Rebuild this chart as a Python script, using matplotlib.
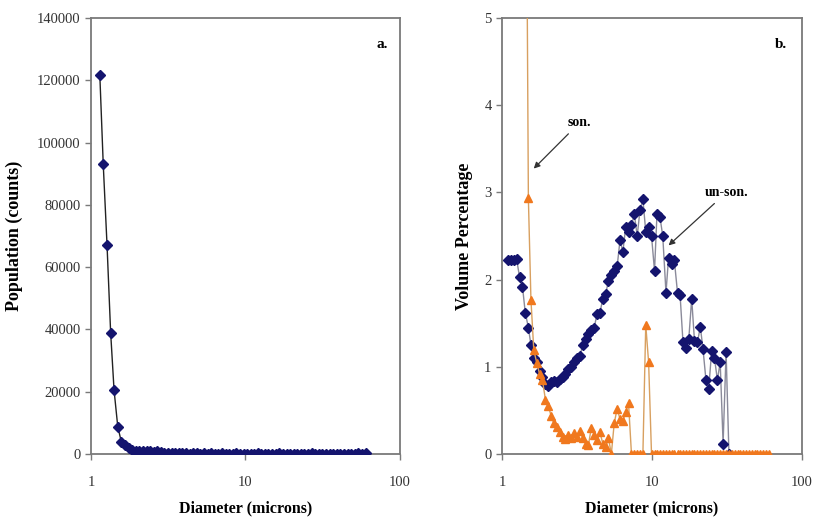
import matplotlib
matplotlib.use("Agg")
import matplotlib.pyplot as plt
import numpy as np

# ---------------- data: panel a ----------------
diam_a = [1.14, 1.20, 1.27, 1.34, 1.41, 1.49, 1.57, 1.66, 1.75, 1.85,
          1.95, 2.05, 2.17, 2.29, 2.41, 2.55, 2.69, 2.83, 2.99, 3.15,
          3.33, 3.51, 3.70, 3.91, 4.12, 4.35, 4.59, 4.84, 5.11, 5.39,
          5.69, 6.00, 6.33, 6.68, 7.05, 7.44, 7.85, 8.28, 8.73, 9.21,
          9.72, 10.3, 10.8, 11.4, 12.0, 12.7, 13.4, 14.1, 14.9, 15.7,
          16.6, 17.5, 18.5, 19.5, 20.5, 21.7, 22.9, 24.1, 25.5, 26.9,
          28.3, 29.9, 31.5, 33.3, 35.1, 37.0, 39.1, 41.2, 43.5, 45.9,
          48.4, 51.1, 53.9, 56.9, 60.0]
population = [121800, 93000, 67000, 39000, 20500, 8800, 4000, 3000, 2000, 1400,
              1000, 800, 900, 1000, 800, 700, 1000, 600, 300, 250,
              200, 250, 200, 180, 200, 150, 200, 180, 150, 200,
              150, 180, 120, 150, 200, 150, 120, 150, 180, 150,
              120, 150, 150, 120, 180, 150, 120, 150, 120, 150,
              180, 150, 120, 150, 120, 150, 150, 120, 150, 180,
              150, 120, 150, 150, 120, 150, 150, 120, 150, 150,
              120, 150, 180, 150, 200]

# ---------------- data: panel b ----------------
diam_b = [1.10, 1.15, 1.20, 1.25, 1.31, 1.37, 1.43, 1.50, 1.56, 1.63,
          1.71, 1.78, 1.86, 1.95, 2.04, 2.13, 2.22, 2.32, 2.43, 2.54,
          2.65, 2.77, 2.90, 3.03, 3.16, 3.31, 3.45, 3.61, 3.77, 3.94,
          4.12, 4.30, 4.50, 4.70, 4.91, 5.13, 5.36, 5.60, 5.86, 6.12,
          6.40, 6.68, 6.98, 7.30, 7.63, 7.97, 8.33, 8.70, 9.09, 9.50,
          9.93, 10.4, 10.8, 11.3, 11.8, 12.4, 12.9, 13.5, 14.1, 14.8,
          15.4, 16.1, 16.8, 17.6, 18.4, 19.2, 20.1, 21.0, 21.9, 22.9,
          23.9, 25.0, 26.1, 27.3, 28.5, 29.8, 31.2, 32.6, 34.0, 35.6,
          37.2, 38.8, 40.6, 42.4, 44.3, 46.3, 48.4, 50.5, 52.8, 55.2,
          57.7, 60.3]
unson = [2.22, 2.22, 2.22, 2.24, 2.03, 1.92, 1.62, 1.45, 1.25, 1.10,
         1.05, 0.95, 0.88, 0.80, 0.78, 0.82, 0.84, 0.82, 0.86, 0.88,
         0.92, 0.97, 1.00, 1.06, 1.10, 1.12, 1.25, 1.32, 1.38, 1.42,
         1.45, 1.60, 1.62, 1.78, 1.84, 1.98, 2.05, 2.10, 2.15, 2.45,
         2.32, 2.60, 2.55, 2.62, 2.75, 2.50, 2.80, 2.92, 2.55, 2.60,
         2.50, 2.10, 2.75, 2.72, 2.50, 1.85, 2.25, 2.18, 2.22, 1.85,
         1.82, 1.28, 1.22, 1.32, 1.78, 1.30, 1.28, 1.46, 1.20, 0.85,
         0.75, 1.18, 1.10, 0.85, 1.05, 0.12, 1.17, 0.0, np.nan, np.nan,
         np.nan, np.nan, np.nan, np.nan, np.nan, np.nan, np.nan, np.nan, np.nan, np.nan,
         np.nan, np.nan]
son = [np.nan, np.nan, np.nan, np.nan, np.nan, np.nan, 9.0, 2.93, 1.77, 1.19,
       1.04, 0.92, 0.85, 0.62, 0.55, 0.43, 0.35, 0.31, 0.25, 0.20,
       0.17, 0.22, 0.18, 0.24, 0.20, 0.26, 0.18, 0.12, 0.10, 0.30,
       0.22, 0.16, 0.25, 0.12, 0.08, 0.18, 0.0, 0.35, 0.52, 0.40,
       0.38, 0.48, 0.58, 0.0, 0.0, 0.0, 0.0, 0.0, 1.48, 1.05,
       0.0, 0.0, 0.0, 0.0, 0.0, 0.0, 0.0, 0.0, 0.0, 0.0,
       0.0, 0.0, 0.0, 0.0, 0.0, 0.0, 0.0, 0.0, 0.0, 0.0,
       0.0, 0.0, 0.0, 0.0, 0.0, 0.0, 0.0, 0.0, 0.0, 0.0,
       0.0, 0.0, 0.0, 0.0, 0.0, 0.0, 0.0, 0.0, 0.0, 0.0,
       0.0, 0.0]

yticks_a = [0, 20000, 40000, 60000, 80000, 100000, 120000, 140000]
yticks_b = [0, 1, 2, 3, 4, 5]
xticks = [1, 10, 100]

# ---------------- style ----------------
plt.rcParams['font.family'] = ['Liberation Serif', 'DejaVu Serif']
navy = '#14146e'
orange = '#f0781e'
frame = '#7a7a7a'

fig = plt.figure(figsize=(8.17, 5.26), dpi=100)
axa = fig.add_axes([0.1114, 0.1369, 0.378, 0.829])
axb = fig.add_axes([0.6144, 0.1369, 0.3672, 0.829])


def style(ax):
    ax.set_xscale('log')
    ax.set_xlim(1, 100)
    ax.set_xticks(xticks)
    ax.set_xticklabels([str(v) for v in xticks])
    ax.xaxis.set_minor_locator(matplotlib.ticker.NullLocator())
    for s in ax.spines.values():
        s.set_color(frame)
        s.set_linewidth(1.3)
    ax.tick_params(axis='both', direction='out', length=4, width=1,
                   color=frame, labelsize=10.5, labelcolor='#333333')
    ax.tick_params(axis='x', pad=12)


# panel a
axa.plot(diam_a, population, color='#222222', lw=1.0, marker='D', ms=5.5,
         mfc=navy, mec=navy, zorder=3)
style(axa)
axa.set_ylim(0, 140000)
axa.set_yticks(yticks_a)
axa.set_yticklabels([str(v) for v in yticks_a])
axa.set_xlabel('Diameter (microns)', fontsize=11.5, fontweight='bold', labelpad=8)
axa.set_ylabel('Population (counts)', fontsize=13, fontweight='bold', labelpad=10)
axa.text(0.96, 0.955, 'a.', transform=axa.transAxes, ha='right', va='top',
         fontsize=11, fontweight='bold')

# panel b
axb.plot(diam_b, unson, color='#8a8a9a', lw=1.0, marker='D', ms=5.5,
         mfc=navy, mec=navy, zorder=3)
axb.plot(diam_b, son, color='#d8a060', lw=1.0, marker='^', ms=6,
         mfc=orange, mec=orange, zorder=4)
style(axb)
axb.set_ylim(0, 5)
axb.set_yticks(yticks_b)
axb.set_yticklabels([str(v) for v in yticks_b])
axb.set_xlabel('Diameter (microns)', fontsize=11.5, fontweight='bold', labelpad=8)
axb.set_ylabel('Volume Percentage', fontsize=13, fontweight='bold', labelpad=8)
axb.text(0.95, 0.955, 'b.', transform=axb.transAxes, ha='right', va='top',
         fontsize=11, fontweight='bold')

arrow = dict(arrowstyle='-|>', color='#333333', lw=0.9, mutation_scale=9)
axb.annotate('son.', xy=(1.58, 3.25), xytext=(2.75, 3.8), fontsize=10,
             fontweight='bold', ha='left', va='center', arrowprops=arrow)
axb.annotate('un-son.', xy=(12.5, 2.37), xytext=(22.5, 3.0), fontsize=10,
             fontweight='bold', ha='left', va='center', arrowprops=arrow)

fig.savefig('out.png', dpi=100, facecolor='white')
